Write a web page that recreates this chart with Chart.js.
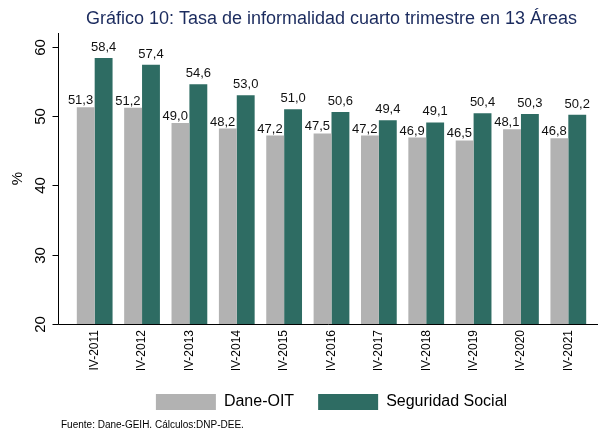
<!DOCTYPE html>
<html>
<head>
<meta charset="utf-8">
<title>Tasa de informalidad</title>
<script src="https://cdn.jsdelivr.net/npm/chart.js@4/dist/chart.umd.min.js"></script>
<style>
    html, body { margin: 0; padding: 0; background: #ffffff; }
    #wrap { width: 598px; height: 431px; }
</style>
</head>
<body>
<div id="wrap"><canvas id="informalidadChart"></canvas></div>
<script>
// Chart data
const periods = ['IV-2011', 'IV-2012', 'IV-2013', 'IV-2014', 'IV-2015', 'IV-2016',
                 'IV-2017', 'IV-2018', 'IV-2019', 'IV-2020', 'IV-2021'];
const daneOit = [51.3, 51.2, 49.0, 48.2, 47.2, 47.5, 47.2, 46.9, 46.5, 48.1, 46.8];
const seguridadSocial = [58.4, 57.4, 54.6, 53.0, 51.0, 50.6, 49.4, 49.1, 50.4, 50.3, 50.2];
const yTicks = [20, 30, 40, 50, 60];

const FONT = 'Liberation Sans, Arial, Helvetica, sans-serif';
const GREY = '#b2b2b2';
const GREEN = '#2e6c63';

function fmt(v) {
    return v.toFixed(1).replace('.', ',');
}

// Stata-like axes: y axis sits a bit left of the first bar group
const axisDecor = {
    id: 'axisDecor',
    afterDraw(chart) {
        const { ctx, chartArea } = chart;
        const yScale = chart.scales.y;
        const axisX = 58.5;
        const baseY = Math.round(chartArea.bottom) + 0.5;

        ctx.save();
        ctx.strokeStyle = '#000000';
        ctx.lineWidth = 1;
        ctx.beginPath();
        ctx.moveTo(axisX, chartArea.top);
        ctx.lineTo(axisX, baseY);
        ctx.lineTo(chart.width, baseY);
        ctx.stroke();

        ctx.font = '15px ' + FONT;
        ctx.fillStyle = '#000000';
        ctx.textAlign = 'center';
        ctx.textBaseline = 'alphabetic';
        yTicks.forEach(function (t) {
            const py = Math.round(yScale.getPixelForValue(t)) + 0.5;
            ctx.beginPath();
            ctx.moveTo(axisX - 6, py);
            ctx.lineTo(axisX, py);
            ctx.stroke();
            ctx.save();
            ctx.translate(45, py);
            ctx.rotate(-Math.PI / 2);
            ctx.fillText(String(t), 0, 0);
            ctx.restore();
        });

        // axis title
        ctx.save();
        ctx.translate(22, (chartArea.top + chartArea.bottom) / 2);
        ctx.rotate(-Math.PI / 2);
        ctx.fillText('%', 0, 0);
        ctx.restore();

        // source note
        ctx.font = '10px ' + FONT;
        ctx.textAlign = 'left';
        ctx.fillText('Fuente: Dane-GEIH. Cálculos:DNP-DEE.', 61, 428);
        ctx.restore();
    }
};

// Value labels above the bars
const barLabels = {
    id: 'barLabels',
    afterDatasetsDraw(chart) {
        const { ctx } = chart;
        ctx.save();
        ctx.font = '13px ' + FONT;
        ctx.fillStyle = '#111111';
        ctx.textBaseline = 'alphabetic';
        chart.data.datasets.forEach(function (ds, di) {
            const meta = chart.getDatasetMeta(di);
            meta.data.forEach(function (bar, i) {
                const txt = fmt(ds.data[i]);
                if (di === 0) {
                    ctx.textAlign = 'right';
                    ctx.fillText(txt, bar.x + bar.width / 2 - 1.5, bar.y - 3);
                } else {
                    ctx.textAlign = 'center';
                    ctx.fillText(txt, bar.x, bar.y - 7);
                }
            });
        });
        ctx.restore();
    }
};

document.addEventListener('DOMContentLoaded', function () {
    const canvas = document.getElementById('informalidadChart');

    new Chart(canvas, {
        type: 'bar',
        data: {
            labels: periods,
            datasets: [
                {
                    label: 'Dane-OIT',
                    data: daneOit,
                    backgroundColor: GREY,
                    borderWidth: 0
                },
                {
                    label: 'Seguridad Social',
                    data: seguridadSocial,
                    backgroundColor: GREEN,
                    borderWidth: 0
                }
            ]
        },
        options: {
            responsive: true,
            maintainAspectRatio: false,
            animation: false,
            datasets: {
                bar: {
                    categoryPercentage: 0.755,
                    barPercentage: 1.0
                }
            },
            layout: {
                padding: { left: 71, right: 6, top: 0, bottom: 11 }
            },
            plugins: {
                title: {
                    display: true,
                    text: 'Gráfico 10: Tasa de informalidad cuarto trimestre en 13 Áreas',
                    color: '#1b2b5e',
                    font: { family: FONT, size: 18, weight: 'normal' },
                    padding: { top: 8, bottom: 3.4 }
                },
                legend: {
                    display: true,
                    position: 'bottom',
                    labels: {
                        color: '#000000',
                        font: { family: FONT, size: 16 },
                        boxWidth: 60,
                        boxHeight: 16,
                        padding: 24
                    }
                },
                tooltip: { enabled: false }
            },
            scales: {
                y: {
                    display: false,
                    min: 20,
                    max: 62
                },
                x: {
                    grid: { display: false, drawTicks: false },
                    border: { display: false },
                    ticks: {
                        color: '#000000',
                        font: { family: FONT, size: 12 },
                        minRotation: 90,
                        maxRotation: 90,
                        padding: 6
                    },
                    afterFit: function (scale) {
                        scale.height = 46;
                    }
                }
            }
        },
        plugins: [axisDecor, barLabels]
    });
});
</script>
</body>
</html>
